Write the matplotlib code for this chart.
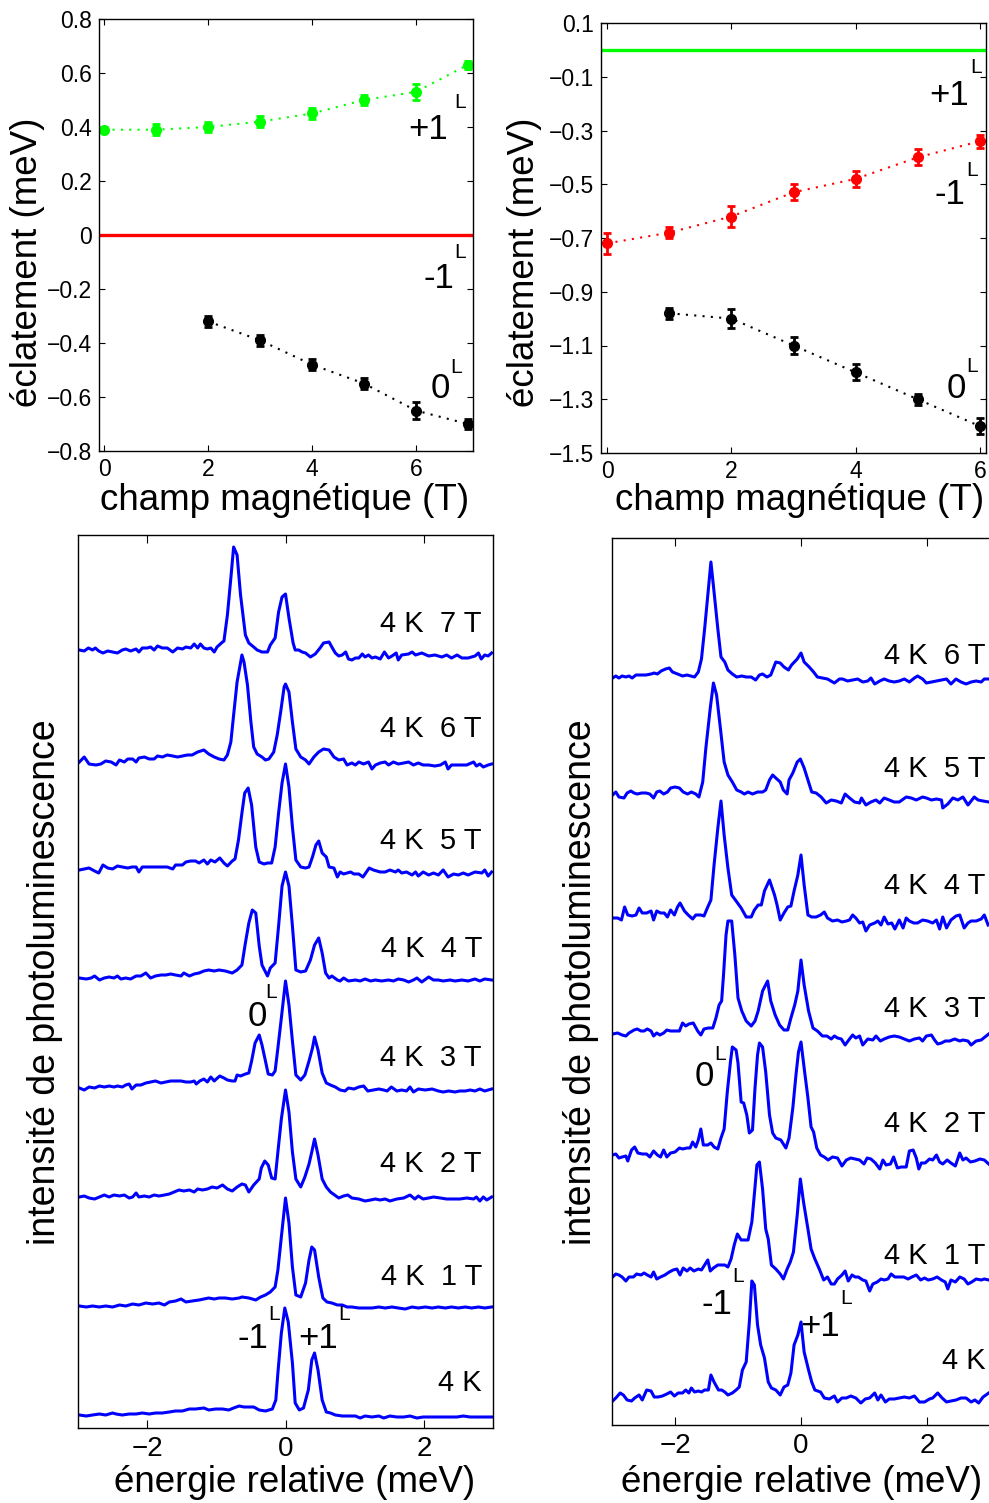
import matplotlib
matplotlib.use('Agg')
import matplotlib.pyplot as plt
from matplotlib.ticker import FuncFormatter

plt.rcParams['font.family'] = ['Liberation Sans', 'DejaVu Sans']

# ---------------- haut gauche : éclatement vs champ ----------------
champ_hg = [0, 1, 2, 3, 4, 5, 6, 7]
plus1_hg = [0.39, 0.39, 0.40, 0.42, 0.45, 0.50, 0.53, 0.63]
plus1_hg_err = [0.01, 0.02, 0.02, 0.02, 0.02, 0.02, 0.03, 0.015]
champ_hg_0 = [2, 3, 4, 5, 6, 7]
zero_hg = [-0.32, -0.39, -0.48, -0.55, -0.65, -0.70]
zero_hg_err = [0.02, 0.02, 0.02, 0.02, 0.03, 0.02]
moins1_hg = 0.0

# ---------------- haut droite ----------------
champ_hd = [0, 1, 2, 3, 4, 5, 6]
moins1_hd = [-0.72, -0.68, -0.62, -0.53, -0.48, -0.40, -0.34]
moins1_hd_err = [0.04, 0.02, 0.04, 0.03, 0.03, 0.03, 0.025]
champ_hd_0 = [1, 2, 3, 4, 5, 6]
zero_hd = [-0.98, -1.00, -1.10, -1.20, -1.30, -1.40]
zero_hd_err = [0.02, 0.035, 0.03, 0.03, 0.02, 0.03]
plus1_hd = 0.0

# ---------------- bas gauche : spectres (énergie meV, intensité u.a.) ----------------
spec_g_7T = [(-2.98,0),(-2.91,-1),(-2.85,2),(-2.79,0),(-2.75,2),(-2.70,-1),(-2.64,-3),(-2.57,-1),(-2.50,-2),(-2.43,-3),(-2.36,0),(-2.31,1),(-2.24,-1),(-2.16,1),(-2.12,-2),(-2.07,2),(-2.00,2),(-1.95,3),(-1.90,0),(-1.85,4),(-1.78,2),(-1.71,2),(-1.63,-2),(-1.56,2),(-1.49,1),(-1.44,3),(-1.37,2),(-1.32,6),(-1.27,2),(-1.23,6),(-1.18,2),(-1.13,1),(-1.08,2),(-1.03,-2),(-0.99,3),(-0.91,8),(-0.89,9),(-0.84,35),(-0.79,72),(-0.75,103),(-0.70,95),(-0.65,55),(-0.58,15),(-0.53,7),(-0.46,3),(-0.41,0),(-0.34,-2),(-0.26,-2),(-0.22,5),(-0.15,12),(-0.10,38),(-0.05,53),(0.00,56),(0.05,32),(0.11,7),(0.14,0),(0.19,0),(0.24,-2),(0.29,-3),(0.36,-7),(0.43,-4),(0.50,2),(0.55,7),(0.63,8),(0.67,3),(0.72,-3),(0.77,-6),(0.82,-5),(0.87,-2),(0.91,-9),(0.96,-10),(1.01,-8),(1.06,-8),(1.11,-4),(1.15,-7),(1.20,-5),(1.25,-8),(1.30,-7),(1.37,-9),(1.43,-2),(1.49,-8),(1.54,-6),(1.60,-3),(1.63,-10),(1.68,-5),(1.78,-4),(1.83,-2),(1.88,-5),(1.97,-3),(2.07,-6),(2.16,-5),(2.26,-7),(2.33,-5),(2.40,-8),(2.48,-5),(2.55,-8),(2.64,-8),(2.74,-6),(2.79,-3),(2.83,-9),(2.88,-5),(2.93,-6),(2.98,-3)]
spec_g_6T = [(-2.98,0),(-2.91,5),(-2.84,-2),(-2.74,-3),(-2.67,-2),(-2.60,1),(-2.52,0),(-2.45,-3),(-2.40,2),(-2.33,0),(-2.28,3),(-2.21,3),(-2.16,0),(-2.12,4),(-2.04,5),(-1.97,3),(-1.90,3),(-1.85,6),(-1.78,5),(-1.71,7),(-1.63,6),(-1.56,5),(-1.49,6),(-1.42,7),(-1.35,7),(-1.27,10),(-1.18,12),(-1.11,8),(-1.03,5),(-0.96,3),(-0.89,2),(-0.84,7),(-0.79,20),(-0.75,47),(-0.70,80),(-0.63,107),(-0.60,100),(-0.55,77),(-0.50,40),(-0.46,15),(-0.41,8),(-0.34,5),(-0.29,2),(-0.24,3),(-0.17,10),(-0.12,27),(-0.07,50),(-0.02,75),(0.00,78),(0.05,70),(0.10,40),(0.15,13),(0.22,5),(0.29,2),(0.34,-2),(0.41,5),(0.48,10),(0.55,13),(0.63,12),(0.70,5),(0.77,2),(0.84,3),(0.89,-3),(0.96,-1),(1.01,-3),(1.06,0),(1.13,-2),(1.20,0),(1.25,-7),(1.30,-3),(1.37,-1),(1.44,0),(1.49,-3),(1.56,0),(1.63,-2),(1.71,-1),(1.78,0),(1.85,-3),(1.92,-1),(1.99,-3),(2.07,-3),(2.16,-4),(2.24,-3),(2.31,0),(2.35,-7),(2.40,-3),(2.50,-3),(2.62,-3),(2.72,0),(2.76,-4),(2.81,-2),(2.86,-5),(2.93,-3),(2.98,-2)]
spec_g_5T = [(-2.98,0),(-2.91,1),(-2.84,2),(-2.76,-1),(-2.70,-3),(-2.64,5),(-2.57,2),(-2.50,1),(-2.43,4),(-2.36,3),(-2.28,2),(-2.22,3),(-2.16,3),(-2.12,-2),(-2.07,3),(-1.97,3),(-1.88,3),(-1.78,3),(-1.71,3),(-1.63,1),(-1.59,5),(-1.49,5),(-1.44,8),(-1.37,9),(-1.30,9),(-1.25,7),(-1.18,10),(-1.13,6),(-1.08,10),(-1.02,8),(-0.95,12),(-0.89,7),(-0.84,4),(-0.77,9),(-0.73,11),(-0.68,30),(-0.63,57),(-0.59,77),(-0.54,82),(-0.49,65),(-0.43,23),(-0.38,8),(-0.31,6),(-0.26,7),(-0.20,7),(-0.15,23),(-0.10,57),(-0.05,87),(0.00,106),(0.05,83),(0.10,43),(0.15,10),(0.22,3),(0.29,2),(0.34,3),(0.39,13),(0.44,25),(0.48,29),(0.53,17),(0.59,13),(0.63,3),(0.70,2),(0.75,-7),(0.79,-2),(0.84,-4),(0.89,-3),(0.94,-2),(0.99,-4),(1.06,-4),(1.12,-7),(1.16,-3),(1.21,2),(1.27,0),(1.37,-2),(1.44,-2),(1.51,0),(1.59,-2),(1.63,0),(1.68,-3),(1.75,-2),(1.83,-5),(1.88,-2),(1.92,-6),(1.99,-2),(2.07,-5),(2.14,-3),(2.21,-5),(2.28,0),(2.35,-7),(2.43,-4),(2.50,-5),(2.57,-3),(2.64,-5),(2.74,-2),(2.84,-3),(2.88,0),(2.93,-6),(2.98,-2)]
spec_g_4T = [(-2.98,0),(-2.88,-1),(-2.81,0),(-2.76,2),(-2.69,-2),(-2.62,0),(-2.55,1),(-2.48,0),(-2.43,2),(-2.38,-1),(-2.31,0),(-2.24,-1),(-2.16,2),(-2.09,2),(-2.02,5),(-1.95,0),(-1.88,2),(-1.80,3),(-1.73,3),(-1.66,4),(-1.59,3),(-1.51,2),(-1.47,5),(-1.39,2),(-1.32,4),(-1.25,5),(-1.18,7),(-1.11,8),(-1.03,7),(-0.96,8),(-0.87,7),(-0.77,5),(-0.70,8),(-0.63,13),(-0.58,35),(-0.53,55),(-0.48,68),(-0.43,65),(-0.38,32),(-0.34,13),(-0.26,2),(-0.22,10),(-0.15,15),(-0.10,52),(-0.05,92),(0.00,106),(0.05,92),(0.10,52),(0.15,8),(0.22,6),(0.29,7),(0.36,18),(0.42,33),(0.48,40),(0.53,25),(0.58,5),(0.63,0),(0.67,2),(0.75,-2),(0.79,-3),(0.84,0),(0.91,-3),(1.01,-2),(1.08,-3),(1.15,-1),(1.23,-3),(1.30,-2),(1.39,-3),(1.49,-2),(1.56,-3),(1.63,-1),(1.71,-2),(1.78,-4),(1.85,-2),(1.90,0),(1.97,-4),(2.07,1),(2.14,-2),(2.21,-2),(2.28,-3),(2.38,-2),(2.45,-3),(2.55,-2),(2.64,-3),(2.74,-1),(2.81,-3),(2.88,-1),(2.98,-2)]
spec_g_3T = [(-2.98,0),(-2.91,-2),(-2.84,1),(-2.76,0),(-2.69,2),(-2.62,1),(-2.55,2),(-2.48,1),(-2.43,2),(-2.36,1),(-2.31,3),(-2.26,4),(-2.22,-1),(-2.16,3),(-2.09,3),(-2.02,5),(-1.95,6),(-1.88,7),(-1.80,5),(-1.73,6),(-1.66,7),(-1.59,7),(-1.51,7),(-1.44,6),(-1.37,6),(-1.32,7),(-1.29,4),(-1.24,7),(-1.18,9),(-1.13,6),(-1.08,11),(-1.03,7),(-1.00,9),(-0.95,12),(-0.89,10),(-0.84,8),(-0.77,7),(-0.73,7),(-0.70,13),(-0.65,12),(-0.58,14),(-0.53,15),(-0.49,27),(-0.44,45),(-0.38,53),(-0.34,43),(-0.29,27),(-0.25,14),(-0.19,13),(-0.15,17),(-0.11,40),(-0.06,70),(0.00,107),(0.05,83),(0.10,47),(0.15,13),(0.22,8),(0.28,13),(0.34,27),(0.39,40),(0.42,51),(0.47,38),(0.53,15),(0.59,5),(0.65,3),(0.72,1),(0.79,-2),(0.86,-3),(0.91,0),(0.99,-1),(1.06,1),(1.13,2),(1.19,-3),(1.27,-2),(1.35,-1),(1.42,-2),(1.47,-3),(1.53,1),(1.61,-3),(1.68,-2),(1.75,-3),(1.80,1),(1.85,-4),(1.92,-1),(2.02,-2),(2.12,-1),(2.21,-3),(2.28,-4),(2.36,-3),(2.45,-4),(2.52,-3),(2.60,-3),(2.67,-2),(2.74,-3),(2.81,-1),(2.88,-3),(2.98,-1)]
spec_g_2T = [(-2.98,0),(-2.91,1),(-2.84,-1),(-2.76,-2),(-2.69,0),(-2.62,2),(-2.55,0),(-2.48,2),(-2.40,1),(-2.33,2),(-2.26,-1),(-2.21,0),(-2.16,4),(-2.12,0),(-2.04,1),(-1.97,0),(-1.90,2),(-1.83,1),(-1.75,2),(-1.68,3),(-1.61,5),(-1.54,7),(-1.47,6),(-1.39,7),(-1.32,5),(-1.27,8),(-1.20,7),(-1.13,8),(-1.06,10),(-0.99,9),(-0.91,12),(-0.84,8),(-0.77,6),(-0.70,10),(-0.63,13),(-0.58,12),(-0.53,5),(-0.46,12),(-0.38,18),(-0.35,29),(-0.30,36),(-0.25,32),(-0.20,19),(-0.15,18),(-0.11,45),(-0.06,78),(0.00,107),(0.05,85),(0.10,45),(0.15,18),(0.22,10),(0.28,20),(0.34,33),(0.38,45),(0.42,58),(0.47,42),(0.53,18),(0.59,10),(0.65,5),(0.71,2),(0.77,-1),(0.84,1),(0.90,2),(0.96,-1),(1.06,-2),(1.15,-4),(1.23,-3),(1.30,-2),(1.37,-3),(1.44,-2),(1.51,-4),(1.61,-2),(1.71,-1),(1.80,2),(1.87,-2),(1.92,1),(1.99,-2),(2.07,-1),(2.14,0),(2.24,-1),(2.33,-2),(2.43,-2),(2.52,-2),(2.62,-1),(2.72,-2),(2.76,0),(2.81,-4),(2.86,0),(2.91,-3),(2.98,0)]
spec_g_1T = [(-2.98,0),(-2.88,-1),(-2.79,0),(-2.69,-1),(-2.60,0),(-2.50,-1),(-2.40,1),(-2.31,0),(-2.21,2),(-2.12,1),(-2.02,3),(-1.92,2),(-1.83,3),(-1.75,1),(-1.68,4),(-1.59,5),(-1.51,7),(-1.44,4),(-1.35,5),(-1.25,6),(-1.18,7),(-1.11,8),(-1.03,7),(-0.96,8),(-0.87,8),(-0.77,7),(-0.67,8),(-0.63,9),(-0.53,8),(-0.43,6),(-0.36,9),(-0.29,11),(-0.22,14),(-0.15,19),(-0.11,36),(-0.06,69),(0.00,108),(0.05,83),(0.10,39),(0.15,11),(0.22,9),(0.29,23),(0.34,46),(0.38,59),(0.42,56),(0.48,29),(0.54,8),(0.60,4),(0.67,3),(0.75,1),(0.82,1),(0.89,-1),(0.96,-1),(1.06,-2),(1.15,-2),(1.25,-2),(1.35,-1),(1.44,-2),(1.54,-1),(1.63,-2),(1.73,-3),(1.83,-1),(1.92,-2),(2.02,-1),(2.12,-2),(2.21,-1),(2.31,-2),(2.40,-1),(2.50,-2),(2.60,-1),(2.69,-2),(2.79,-1),(2.88,-2),(2.98,-1)]
spec_g_0T = [(-2.98,0),(-2.88,-1),(-2.79,0),(-2.69,1),(-2.60,0),(-2.50,2),(-2.45,1),(-2.36,0),(-2.26,1),(-2.16,1),(-2.07,2),(-1.97,1),(-1.88,2),(-1.78,2),(-1.68,3),(-1.59,4),(-1.49,4),(-1.39,6),(-1.30,6),(-1.18,7),(-1.11,5),(-1.01,6),(-0.91,6),(-0.82,5),(-0.75,7),(-0.67,9),(-0.60,8),(-0.53,8),(-0.46,8),(-0.38,5),(-0.29,4),(-0.19,6),(-0.14,15),(-0.11,42),(-0.06,82),(-0.01,107),(0.04,93),(0.10,52),(0.14,12),(0.20,5),(0.26,7),(0.33,25),(0.38,55),(0.42,62),(0.47,45),(0.53,15),(0.59,3),(0.65,2),(0.72,0),(0.82,-1),(0.91,-1),(1.01,-1),(1.08,-3),(1.15,-1),(1.25,-2),(1.35,-1),(1.42,-3),(1.51,-1),(1.61,-2),(1.71,-2),(1.80,-1),(1.90,-3),(1.99,-2),(2.09,-2),(2.19,-2),(2.28,-2),(2.38,-2),(2.48,-2),(2.57,-1),(2.67,-2),(2.76,-2),(2.86,-2),(2.98,-2)]

spectres_g = [spec_g_0T, spec_g_1T, spec_g_2T, spec_g_3T, spec_g_4T, spec_g_5T, spec_g_6T, spec_g_7T]
decalages_g = [13, 122, 231, 340, 450, 558, 666, 778]
etiquettes_g = ['4 K', '4 K  1 T', '4 K  2 T', '4 K  3 T', '4 K  4 T', '4 K  5 T', '4 K  6 T', '4 K  7 T']

# ---------------- bas droite ----------------
spec_d_6T = [(-2.99,0),(-2.94,2),(-2.89,0),(-2.84,2),(-2.78,1),(-2.73,2),(-2.68,0),(-2.62,3),(-2.54,3),(-2.46,3),(-2.38,4),(-2.33,5),(-2.28,4),(-2.22,7),(-2.15,9),(-2.09,10),(-2.04,6),(-1.96,4),(-1.88,2),(-1.81,3),(-1.75,2),(-1.69,1),(-1.63,6),(-1.58,19),(-1.53,49),(-1.47,89),(-1.43,116),(-1.38,86),(-1.32,49),(-1.27,21),(-1.21,16),(-1.16,8),(-1.09,4),(-1.02,1),(-0.94,2),(-0.87,1),(-0.79,1),(-0.72,-2),(-0.66,3),(-0.61,4),(-0.54,1),(-0.48,3),(-0.40,16),(-0.33,15),(-0.27,11),(-0.20,8),(-0.15,13),(-0.06,19),(0.00,25),(0.05,16),(0.13,11),(0.20,6),(0.26,1),(0.34,0),(0.42,-1),(0.53,-5),(0.61,-1),(0.66,-1),(0.74,-3),(0.82,-2),(0.90,-1),(0.98,-4),(1.06,-3),(1.11,0),(1.17,-6),(1.25,-3),(1.32,-1),(1.40,-3),(1.48,-4),(1.56,-3),(1.64,-1),(1.72,-4),(1.80,0),(1.85,2),(1.93,-1),(1.99,-5),(2.07,-4),(2.15,-3),(2.23,-2),(2.31,-1),(2.38,-6),(2.46,-1),(2.54,-4),(2.62,-6),(2.70,-4),(2.78,-3),(2.86,-4),(2.91,-1),(2.98,-1)]
spec_d_5T = [(-2.99,0),(-2.94,3),(-2.89,-2),(-2.81,-3),(-2.76,2),(-2.70,4),(-2.65,2),(-2.60,1),(-2.53,2),(-2.46,2),(-2.40,1),(-2.34,-3),(-2.29,3),(-2.24,4),(-2.18,1),(-2.12,3),(-2.07,7),(-2.00,8),(-1.93,7),(-1.87,3),(-1.80,1),(-1.74,3),(-1.67,1),(-1.62,-2),(-1.56,13),(-1.51,47),(-1.44,87),(-1.39,112),(-1.34,100),(-1.28,67),(-1.22,33),(-1.16,20),(-1.09,13),(-1.02,5),(-0.95,3),(-0.90,1),(-0.84,3),(-0.77,1),(-0.69,3),(-0.61,3),(-0.56,5),(-0.50,15),(-0.45,20),(-0.40,17),(-0.33,13),(-0.28,5),(-0.22,1),(-0.19,15),(-0.13,22),(-0.06,33),(-0.01,36),(0.05,27),(0.12,13),(0.17,3),(0.24,2),(0.32,-2),(0.40,-8),(0.48,-5),(0.56,-6),(0.64,-8),(0.70,1),(0.77,-3),(0.85,-7),(0.93,-8),(0.96,-3),(1.03,-10),(1.11,-7),(1.19,-5),(1.25,-8),(1.32,-3),(1.40,-5),(1.48,-7),(1.56,-7),(1.67,-2),(1.75,-3),(1.83,-5),(1.93,-2),(1.99,-3),(2.07,-5),(2.15,-4),(2.23,-5),(2.25,-13),(2.33,-9),(2.41,-3),(2.49,-5),(2.57,-2),(2.65,-10),(2.75,-2),(2.81,-5),(2.89,-6),(2.98,-7)]
spec_d_4T = [(-2.99,0),(-2.91,0),(-2.85,-2),(-2.80,11),(-2.75,3),(-2.68,2),(-2.62,3),(-2.57,10),(-2.52,5),(-2.45,5),(-2.38,7),(-2.34,-2),(-2.29,7),(-2.23,5),(-2.17,5),(-2.12,1),(-2.07,8),(-2.01,3),(-1.96,11),(-1.92,15),(-1.85,7),(-1.79,3),(-1.72,-1),(-1.67,3),(-1.59,3),(-1.54,2),(-1.48,11),(-1.43,18),(-1.38,53),(-1.32,90),(-1.27,117),(-1.22,83),(-1.16,50),(-1.10,23),(-1.03,17),(-0.95,10),(-0.87,1),(-0.79,1),(-0.74,8),(-0.68,13),(-0.63,13),(-0.58,27),(-0.50,38),(-0.42,23),(-0.38,13),(-0.33,-2),(-0.27,5),(-0.21,11),(-0.16,12),(-0.11,27),(-0.05,43),(0.00,63),(0.05,33),(0.11,3),(0.17,1),(0.24,1),(0.31,3),(0.37,6),(0.42,0),(0.50,-3),(0.58,-2),(0.65,-4),(0.72,-3),(0.77,-2),(0.82,3),(0.87,0),(0.93,-5),(0.98,-4),(1.03,-13),(1.09,-7),(1.17,-5),(1.22,-3),(1.27,-7),(1.32,1),(1.38,-6),(1.44,-5),(1.49,-11),(1.56,-2),(1.62,-10),(1.67,0),(1.72,-3),(1.79,-5),(1.85,-5),(1.93,-2),(2.01,-3),(2.09,-5),(2.15,-2),(2.20,-11),(2.25,1),(2.31,-10),(2.38,-2),(2.46,2),(2.52,3),(2.59,-10),(2.65,-5),(2.70,-3),(2.78,-3),(2.86,-1),(2.91,3),(2.97,-7)]
spec_d_3T = [(-2.99,0),(-2.91,1),(-2.84,-1),(-2.78,-2),(-2.73,1),(-2.65,4),(-2.60,5),(-2.54,3),(-2.49,3),(-2.44,5),(-2.38,3),(-2.34,-2),(-2.29,1),(-2.24,-1),(-2.18,1),(-2.13,4),(-2.07,3),(-2.00,3),(-1.93,3),(-1.88,11),(-1.83,8),(-1.78,10),(-1.71,11),(-1.64,3),(-1.59,-1),(-1.54,5),(-1.47,6),(-1.40,6),(-1.35,16),(-1.30,29),(-1.26,33),(-1.23,59),(-1.19,99),(-1.16,113),(-1.10,113),(-1.05,79),(-1.00,36),(-0.94,23),(-0.87,13),(-0.79,8),(-0.73,13),(-0.68,23),(-0.61,43),(-0.53,53),(-0.48,33),(-0.41,19),(-0.34,9),(-0.27,4),(-0.21,4),(-0.16,16),(-0.10,29),(-0.05,43),(0.00,74),(0.05,49),(0.12,23),(0.19,6),(0.26,3),(0.34,-2),(0.41,-2),(0.48,-5),(0.53,-2),(0.58,-4),(0.64,-5),(0.70,-11),(0.77,-5),(0.82,-1),(0.87,-4),(0.93,-2),(0.98,-11),(1.06,-5),(1.14,-6),(1.19,-2),(1.26,-7),(1.32,-5),(1.40,-3),(1.48,-2),(1.56,-3),(1.64,-5),(1.72,-7),(1.80,-5),(1.88,-4),(1.93,-7),(1.99,-2),(2.07,-1),(2.12,-6),(2.17,-10),(2.23,-9),(2.29,-7),(2.36,-7),(2.44,-5),(2.52,-7),(2.57,-6),(2.65,-7),(2.70,-11),(2.78,-7),(2.86,-6),(2.98,0)]
spec_d_2T = [(-2.99,0),(-2.94,1),(-2.89,-3),(-2.84,-2),(-2.78,-1),(-2.75,-6),(-2.69,5),(-2.64,8),(-2.59,2),(-2.52,1),(-2.45,1),(-2.40,-2),(-2.34,4),(-2.28,0),(-2.23,-2),(-2.18,5),(-2.13,-2),(-2.07,2),(-2.00,3),(-1.93,7),(-1.88,6),(-1.81,7),(-1.76,7),(-1.72,13),(-1.67,8),(-1.63,15),(-1.59,26),(-1.55,10),(-1.48,10),(-1.43,12),(-1.38,8),(-1.32,6),(-1.27,17),(-1.22,26),(-1.17,63),(-1.12,93),(-1.09,108),(-1.03,105),(-1.00,92),(-0.95,53),(-0.91,52),(-0.86,40),(-0.82,22),(-0.77,25),(-0.73,67),(-0.69,100),(-0.66,112),(-0.61,108),(-0.56,83),(-0.50,40),(-0.45,22),(-0.40,17),(-0.32,15),(-0.24,7),(-0.19,17),(-0.13,47),(-0.08,80),(-0.04,103),(0.00,113),(0.05,87),(0.11,57),(0.16,28),(0.20,23),(0.25,7),(0.31,0),(0.37,-2),(0.43,-5),(0.50,-2),(0.58,-3),(0.65,-11),(0.72,-5),(0.79,-3),(0.86,-4),(0.93,-5),(1.00,-9),(1.05,-3),(1.11,-4),(1.18,-8),(1.25,-14),(1.30,-5),(1.35,-10),(1.42,-9),(1.47,-2),(1.53,-13),(1.59,-12),(1.67,-12),(1.72,4),(1.78,5),(1.83,-3),(1.87,-14),(1.91,-8),(1.97,-8),(2.04,-4),(2.09,-5),(2.15,0),(2.20,-7),(2.25,-9),(2.32,-5),(2.38,-8),(2.45,-11),(2.52,2),(2.57,-5),(2.62,-3),(2.69,-7),(2.76,-6),(2.84,-4),(2.91,-5),(2.98,-9)]
spec_d_1T = [(-2.99,0),(-2.94,3),(-2.89,2),(-2.84,0),(-2.78,-4),(-2.73,0),(-2.66,0),(-2.61,3),(-2.54,2),(-2.49,4),(-2.44,2),(-2.38,0),(-2.34,5),(-2.29,-2),(-2.23,0),(-2.16,2),(-2.09,5),(-2.03,7),(-1.97,8),(-1.92,2),(-1.87,9),(-1.81,6),(-1.76,9),(-1.70,6),(-1.63,8),(-1.58,7),(-1.53,12),(-1.48,17),(-1.44,6),(-1.39,9),(-1.32,12),(-1.27,12),(-1.21,12),(-1.16,10),(-1.11,18),(-1.06,32),(-1.01,43),(-0.95,37),(-0.90,37),(-0.84,37),(-0.78,55),(-0.73,90),(-0.70,112),(-0.66,115),(-0.61,88),(-0.56,48),(-0.52,38),(-0.47,12),(-0.40,8),(-0.33,3),(-0.28,-2),(-0.22,8),(-0.17,15),(-0.12,25),(-0.06,62),(-0.01,98),(0.04,75),(0.11,48),(0.16,28),(0.22,18),(0.29,8),(0.36,-3),(0.42,0),(0.48,-7),(0.53,-7),(0.58,-2),(0.65,2),(0.70,6),(0.75,-4),(0.81,2),(0.86,0),(0.91,0),(0.98,-3),(1.03,-4),(1.09,-14),(1.14,-7),(1.21,-5),(1.27,-2),(1.32,-3),(1.38,-2),(1.43,3),(1.49,0),(1.56,0),(1.63,0),(1.70,-2),(1.76,0),(1.83,2),(1.90,-3),(1.96,-1),(2.02,-3),(2.09,-2),(2.16,0),(2.23,-3),(2.29,-5),(2.33,-12),(2.38,-3),(2.45,-5),(2.52,0),(2.59,-2),(2.65,-7),(2.71,-5),(2.78,-2),(2.86,-3),(2.91,-2),(2.98,-3)]
spec_d_0T = [(-2.99,0),(-2.94,3),(-2.87,8),(-2.82,6),(-2.76,1),(-2.69,0),(-2.64,3),(-2.57,6),(-2.52,1),(-2.45,11),(-2.38,10),(-2.33,4),(-2.27,4),(-2.20,5),(-2.13,7),(-2.07,9),(-2.01,5),(-1.95,8),(-1.88,8),(-1.83,11),(-1.78,8),(-1.74,13),(-1.69,9),(-1.63,10),(-1.58,9),(-1.53,11),(-1.47,11),(-1.43,26),(-1.38,19),(-1.31,11),(-1.26,11),(-1.21,9),(-1.16,6),(-1.09,8),(-1.03,11),(-0.98,14),(-0.93,31),(-0.87,39),(-0.82,79),(-0.78,120),(-0.74,116),(-0.69,76),(-0.64,56),(-0.58,43),(-0.52,19),(-0.47,13),(-0.40,11),(-0.33,6),(-0.27,14),(-0.21,16),(-0.16,28),(-0.11,56),(-0.05,66),(0.00,79),(0.05,49),(0.12,31),(0.17,19),(0.22,11),(0.31,9),(0.37,3),(0.45,2),(0.53,5),(0.58,-1),(0.65,3),(0.72,3),(0.79,5),(0.87,3),(0.95,-2),(1.02,2),(1.09,3),(1.17,8),(1.22,1),(1.27,6),(1.34,-1),(1.40,2),(1.48,2),(1.56,3),(1.64,4),(1.72,3),(1.80,5),(1.88,-1),(1.96,-1),(2.04,2),(2.09,3),(2.17,8),(2.24,3),(2.31,-1),(2.38,0),(2.46,1),(2.54,3),(2.62,3),(2.70,-1),(2.76,1),(2.82,-2),(2.89,4),(2.98,8)]

spectres_d = [spec_d_0T, spec_d_1T, spec_d_2T, spec_d_3T, spec_d_4T, spec_d_5T, spec_d_6T]
decalages_d = [24, 148, 270, 391, 507, 630, 747]
etiquettes_d = ['4 K', '4 K  1 T', '4 K  2 T', '4 K  3 T', '4 K  4 T', '4 K  5 T', '4 K  6 T']

# ---------------- mise en page ----------------
W, H = 989, 1503
fig = plt.figure(figsize=(W / 100, H / 100), dpi=100)


def rect(l, t, r, b):
    return [l / W, 1 - b / H, (r - l) / W, (b - t) / H]


def fmt(v, p):
    if abs(v) < 1e-9:
        return '0'
    return ('%.1f' % v).replace('-', '\u2212')


VERT = '#00ff00'
ROUGE = '#ff0000'
BLEU = '#0000ff'
pointille = (0, (1, 3))
FS_NUM = 25   # taille des 0, +1, -1
FS_L = 15     # taille de l'exposant L


def style_haut(ax):
    ax.tick_params(direction='in', top=True, right=True, length=4, width=0.8,
                   labelsize=16.5, pad=5)
    ax.yaxis.set_major_formatter(FuncFormatter(fmt))
    for s in ax.spines.values():
        s.set_linewidth(1.0)


def etiquette(ax, x, y, txt, xl, yl):
    ax.text(x, y, txt, ha='right', va='center', fontsize=FS_NUM)
    ax.text(xl, yl, 'L', ha='left', va='center', fontsize=FS_L)


# haut gauche
ax1 = fig.add_axes(rect(99, 19, 473, 451))
ax1.axhline(moins1_hg, color=ROUGE, lw=2.4)
ax1.plot(champ_hg, plus1_hg, color=VERT, ls=pointille, lw=1.5)
ax1.errorbar(champ_hg, plus1_hg, yerr=plus1_hg_err, fmt='o', color=VERT, ms=7,
             elinewidth=2, capsize=3, capthick=2)
ax1.plot(champ_hg_0, zero_hg, color='k', ls=pointille, lw=1.5)
ax1.errorbar(champ_hg_0, zero_hg, yerr=zero_hg_err, fmt='o', color='k', ms=7,
             elinewidth=2, capsize=3, capthick=2)
ax1.set_xlim(-0.1, 7.1)
ax1.set_ylim(-0.8, 0.8)
ax1.set_xticks([0, 2, 4, 6])
ax1.set_yticks([-0.8, -0.6, -0.4, -0.2, 0, 0.2, 0.4, 0.6, 0.8])
style_haut(ax1)
etiquette(ax1, 6.62, 0.39, '+1', 6.74, 0.49)
etiquette(ax1, 6.74, -0.16, '-1', 6.74, -0.065)
etiquette(ax1, 6.66, -0.57, '0', 6.66, -0.49)

# haut droite
ax2 = fig.add_axes(rect(601, 23, 986, 453))
ax2.axhline(plus1_hd, color=VERT, lw=2.4)
ax2.plot(champ_hd, moins1_hd, color=ROUGE, ls=pointille, lw=1.5)
ax2.errorbar(champ_hd, moins1_hd, yerr=moins1_hd_err, fmt='o', color=ROUGE, ms=7,
             elinewidth=2, capsize=3, capthick=2)
ax2.plot(champ_hd_0, zero_hd, color='k', ls=pointille, lw=1.5)
ax2.errorbar(champ_hd_0, zero_hd, yerr=zero_hd_err, fmt='o', color='k', ms=7,
             elinewidth=2, capsize=3, capthick=2)
ax2.set_xlim(-0.1, 6.1)
ax2.set_ylim(-1.5, 0.1)
ax2.set_xticks([0, 2, 4, 6])
ax2.set_yticks([-1.5, -1.3, -1.1, -0.9, -0.7, -0.5, -0.3, -0.1, 0.1])
style_haut(ax2)
etiquette(ax2, 5.82, -0.17, '+1', 5.85, -0.067)
etiquette(ax2, 5.77, -0.54, '-1', 5.78, -0.447)
etiquette(ax2, 5.77, -1.26, '0', 5.78, -1.18)


def style_bas(ax):
    ax.set_xlim(-3, 3)
    ax.set_xticks([-2, 0, 2])
    ax.set_yticks([])
    ax.tick_params(direction='in', top=True, length=6, width=0.8, labelsize=20, pad=6)
    ax.xaxis.set_major_formatter(FuncFormatter(lambda v, p: ('%d' % v).replace('-', '\u2212')))
    for s in ax.spines.values():
        s.set_linewidth(1.0)


# bas gauche
ax3 = fig.add_axes(rect(78, 535, 493, 1428))
ecarts_g = [18, 15, 19, 16, 15, 15, 19, 12]
for spec, dec, lab, ec in zip(spectres_g, decalages_g, etiquettes_g, ecarts_g):
    ax3.plot([p[0] for p in spec], [dec + p[1] for p in spec], color=BLEU, lw=2.2)
    ax3.text(2.84, dec + ec, lab, ha='right', va='bottom', fontsize=21)
ax3.set_ylim(0, 893)
style_bas(ax3)
ax3.text(-0.27, 412, '0', ha='right', va='center', fontsize=FS_NUM)
ax3.text(-0.29, 435, 'L', ha='left', va='center', fontsize=FS_L)
ax3.text(-0.25, 89, '-1', ha='right', va='center', fontsize=FS_NUM)
ax3.text(-0.25, 114, 'L', ha='left', va='center', fontsize=FS_L)
ax3.text(0.76, 89, '+1', ha='right', va='center', fontsize=FS_NUM)
ax3.text(0.76, 114, 'L', ha='left', va='center', fontsize=FS_L)

# bas droite
ax4 = fig.add_axes(rect(612, 538, 990, 1425))
ecarts_d = [26, 7, 17, 11, 18, 12, 8]
for spec, dec, lab, ec in zip(spectres_d, decalages_d, etiquettes_d, ecarts_d):
    ax4.plot([p[0] for p in spec], [dec + p[1] for p in spec], color=BLEU, lw=2.2)
    ax4.text(2.93, dec + ec, lab, ha='right', va='bottom', fontsize=21)
ax4.set_ylim(0, 887)
style_bas(ax4)
ax4.text(-1.38, 348, '0', ha='right', va='center', fontsize=FS_NUM)
ax4.text(-1.38, 370, 'L', ha='left', va='center', fontsize=FS_L)
ax4.text(-1.09, 121, '-1', ha='right', va='center', fontsize=FS_NUM)
ax4.text(-1.09, 149, 'L', ha='left', va='center', fontsize=FS_L)
ax4.text(0.62, 98, '+1', ha='right', va='center', fontsize=FS_NUM)
ax4.text(0.63, 127, 'L', ha='left', va='center', fontsize=FS_L)

# titres d'axes
def ftxt(x, y, s, rot=0, fs=26.5):
    fig.text(x / W, 1 - y / H, s, ha='center', va='center', rotation=rot, fontsize=fs)


ftxt(285, 500, 'champ magnétique (T)')
ftxt(800, 500, 'champ magnétique (T)')
ftxt(28, 262, 'éclatement (meV)', rot=90)
ftxt(525, 262, 'éclatement (meV)', rot=90)
ftxt(45, 982, 'intensité de photoluminescence', rot=90, fs=27)
ftxt(581, 982, 'intensité de photoluminescence', rot=90, fs=27)
ftxt(295, 1482, 'énergie relative (meV)')
ftxt(802, 1482, 'énergie relative (meV)')

fig.savefig('out.png', dpi=100)
